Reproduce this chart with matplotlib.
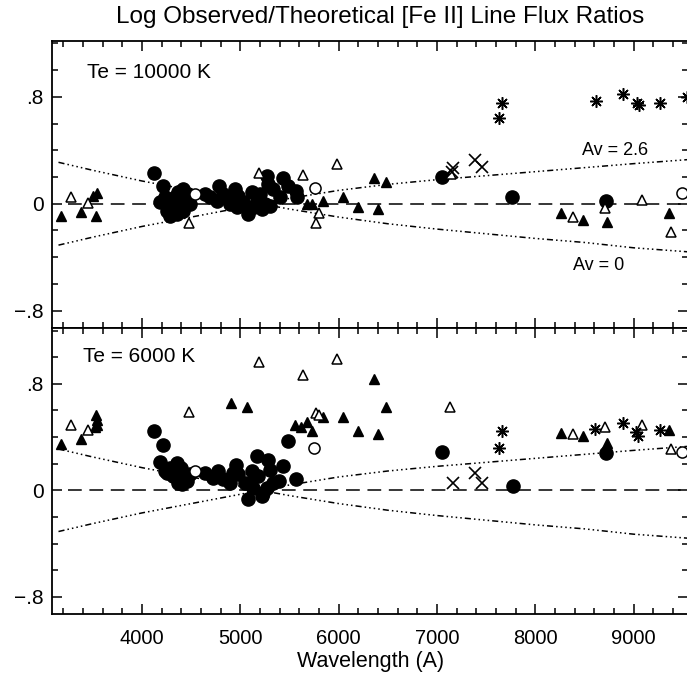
import matplotlib
matplotlib.use('Agg')
import matplotlib.pyplot as plt
from matplotlib.ticker import MultipleLocator, FixedLocator, FixedFormatter

plt.rcParams['font.family'] = ['Liberation Sans', 'DejaVu Sans']

# ---- data (wavelength in A, log obs/theo ratio) ----
# Te = 10000 K
top_fcirc_x = [4122, 4217, 4183, 4251, 4302, 4336, 4370, 4420, 4403, 4454, 4488, 4353, 4285,
               4420, 4471, 4234, 4319, 4641, 4692, 4760, 4787, 4827, 4895, 4946, 4980, 4922,
               5082, 5116, 5166, 5217, 5200, 5268, 5285, 5336, 5302, 5404, 5438, 5488, 5567,
               5580, 5031, 4963, 5251, 5139, 7049, 7767, 8716]
top_fcirc_y = [0.228, 0.129, 0.010, -0.052, -0.015, 0.047, 0.084, 0.109, 0.022, 0.047, -0.002,
               -0.077, -0.089, -0.052, 0.072, 0.047, -0.039, 0.072, 0.047, 0.022, 0.129, 0.072,
               -0.002, 0.109, 0.060, 0.047, -0.077, 0.084, 0.022, -0.039, 0.072, 0.208, 0.146,
               0.109, -0.015, 0.047, 0.196, 0.134, 0.097, 0.047, 0.010, -0.027, 0.0, -0.027,
               0.200, 0.047, 0.022]
top_ocirc_x = [4539, 5759, 9490]
top_ocirc_y = [0.072, 0.121, 0.077]
top_ftri_x = [3173, 3376, 3532, 3505, 3544, 5675, 5726, 5844, 6048, 6201, 6404, 6360, 6482,
              8258, 8482, 8733, 9354]
top_ftri_y = [-0.090, -0.065, -0.090, 0.060, 0.077, -0.003, -0.003, 0.022, 0.047, -0.022,
              -0.040, 0.190, 0.166, -0.072, -0.121, -0.139, -0.072]
top_otri_x = [3275, 3454, 4481, 5193, 5634, 5987, 5804, 5767, 7140, 8380, 8709, 9083, 9378]
top_otri_y = [0.052, 0.002, -0.147, 0.233, 0.216, 0.300, -0.072, -0.147, 0.220, -0.102,
              -0.035, 0.028, -0.213]
top_ast_x = [7659, 7634, 8615, 8890, 9032, 9049, 9270, 9541]
top_ast_y = [0.754, 0.640, 0.772, 0.820, 0.754, 0.737, 0.754, 0.800]
top_cross_x = [7160, 7150, 7388, 7456]
top_cross_y = [0.265, 0.240, 0.330, 0.275]

# Te = 6000 K
bot_fcirc_x = [4122, 4217, 4183, 4251, 4302, 4353, 4393, 4420, 4403, 4454, 4488, 4319, 4370,
               4285, 4234, 4641, 4726, 4776, 4827, 4895, 4956, 4980, 4922, 5048, 5082, 5116,
               5166, 5183, 5234, 5217, 5285, 5302, 5336, 5397, 5438, 5133, 5268, 5150, 5482,
               5567, 7049, 7768, 8717]
bot_fcirc_y = [0.449, 0.342, 0.211, 0.127, 0.144, 0.206, 0.169, 0.107, 0.045, 0.070, 0.119,
               0.107, 0.057, 0.169, 0.144, 0.127, 0.094, 0.144, 0.082, 0.057, 0.193, 0.119,
               0.132, 0.057, -0.067, 0.144, 0.256, 0.107, -0.017, -0.042, 0.231, 0.156, 0.057,
               0.070, 0.181, 0.020, 0.020, 0.107, 0.367, 0.082, 0.285, 0.032, 0.280]
bot_ocirc_x = [4539, 5750, 9490]
bot_ocirc_y = [0.144, 0.317, 0.285]
bot_ftri_x = [3173, 3376, 3532, 3539, 3545, 3522, 4905, 5071, 5556, 5614, 5675, 5726, 5845,
              6048, 6201, 6354, 6483, 6404, 8259, 8483, 8727, 9355]
bot_ftri_y = [0.350, 0.387, 0.565, 0.528, 0.491, 0.479, 0.657, 0.627, 0.491, 0.474, 0.516,
              0.442, 0.553, 0.548, 0.442, 0.838, 0.627, 0.422, 0.434, 0.409, 0.355, 0.454]
bot_otri_x = [3274, 3454, 4481, 5193, 5634, 5987, 5770, 5804, 7134, 8381, 8710, 9083, 9378]
bot_otri_y = [0.491, 0.454, 0.590, 0.962, 0.863, 0.987, 0.578, 0.566, 0.627, 0.424, 0.479,
              0.491, 0.310]
bot_ast_x = [7659, 7635, 8609, 8890, 9026, 9039, 9270]
bot_ast_y = [0.446, 0.317, 0.459, 0.508, 0.441, 0.409, 0.454]
bot_cross_x = [7167, 7388, 7456]
bot_cross_y = [0.052, 0.127, 0.052]

# reddening curves
curve_x = [3150, 3500, 4000, 4500, 5000, 5200, 5500, 6000, 6500, 7000, 7500, 8000, 8500, 9000, 9550]
av26_y = [-0.31, -0.25, -0.17, -0.10, -0.03, 0.0, 0.04, 0.10, 0.145, 0.18, 0.21, 0.24, 0.27, 0.30, 0.33]
av0_y = [0.31, 0.25, 0.17, 0.10, 0.03, 0.0, -0.04, -0.10, -0.15, -0.19, -0.225, -0.26, -0.29, -0.33, -0.36]

panels = [
    ('Te = 10000 K', top_fcirc_x, top_fcirc_y, top_ocirc_x, top_ocirc_y, top_ftri_x, top_ftri_y,
     top_otri_x, top_otri_y, top_ast_x, top_ast_y, top_cross_x, top_cross_y),
    ('Te = 6000 K', bot_fcirc_x, bot_fcirc_y, bot_ocirc_x, bot_ocirc_y, bot_ftri_x, bot_ftri_y,
     bot_otri_x, bot_otri_y, bot_ast_x, bot_ast_y, bot_cross_x, bot_cross_y),
]

fig = plt.figure(figsize=(6.87, 6.79), dpi=100)
ax_top = fig.add_axes([0.0757, 0.517, 0.926, 0.423])
ax_bot = fig.add_axes([0.0757, 0.0957, 0.926, 0.4213])

curve_ls = (0, (4, 2, 1, 2, 1, 2, 1, 2, 1, 2))

for ax, p in zip([ax_top, ax_bot], panels):
    (label, fcx, fcy, ocx, ocy, ftx, fty, otx, oty, asx, asy, crx, cry) = p
    ax.plot([3250, 9560], [0, 0], color='black', lw=1.1, dashes=(9, 5))
    ax.plot(curve_x, av26_y, color='black', lw=1.1, linestyle=curve_ls)
    ax.plot(curve_x, av0_y, color='black', lw=1.1, linestyle=curve_ls)

    ax.plot(fcx, fcy, 'o', ms=9.5, mfc='black', mec='black', ls='none')
    ax.plot(ocx, ocy, 'o', ms=8, mfc='white', mec='black', mew=1.1, ls='none')
    ax.plot(ftx, fty, '^', ms=7.5, mfc='black', mec='black', ls='none')
    ax.plot(otx, oty, '^', ms=7.5, mfc='white', mec='black', mew=1.1, ls='none')
    ax.plot(asx, asy, marker=(8, 2, 0), ms=9, color='black', mew=1.1, ls='none')
    ax.plot(crx, cry, 'x', ms=8, color='black', mew=1.2, ls='none')

    if ax is ax_top:
        ax.text(0.055, 0.891, label, transform=ax.transAxes, fontsize=15, va='center', ha='left')
    else:
        ax.text(0.049, 0.899, label, transform=ax.transAxes, fontsize=15, va='center', ha='left')

    ax.set_xlim(3084, 9554)
    ax.set_ylim(-0.93, 1.22)
    ax.xaxis.set_major_locator(MultipleLocator(1000))
    ax.xaxis.set_minor_locator(MultipleLocator(200))
    ax.yaxis.set_major_locator(FixedLocator([-0.8, 0, 0.8]))
    ax.yaxis.set_major_formatter(FixedFormatter(['\u2212.8', '0', '.8']))
    ax.yaxis.set_minor_locator(MultipleLocator(0.2))
    ax.tick_params(which='both', direction='in', top=True, right=True, width=1.1)
    ax.tick_params(which='major', length=7)
    ax.tick_params(which='minor', length=4)
    ax.tick_params(axis='y', labelsize=15, pad=6)
    ax.tick_params(axis='x', labelsize=14.5, pad=11)
    for s in ax.spines.values():
        s.set_linewidth(1.3)

ax_top.tick_params(axis='x', labelbottom=False)
ax_top.text(8476, 0.40, 'Av = 2.6', fontsize=13, ha='left', va='center')
ax_top.text(8384, -0.46, 'Av = 0', fontsize=13, ha='left', va='center')

ax_bot.set_xlabel('Wavelength (A)', fontsize=15.5, labelpad=2)
fig.text(0.553, 0.975, 'Log Observed/Theoretical [Fe II] Line Flux Ratios', fontsize=17.5,
         ha='center', va='center')

plt.savefig('out.png', dpi=100)
plt.close()
